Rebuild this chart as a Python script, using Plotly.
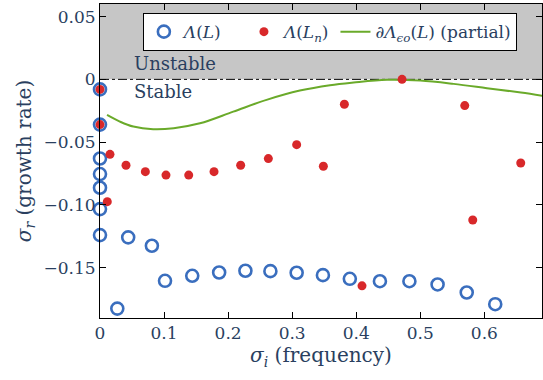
import plotly.graph_objects as go

# Λ(L) eigenvalues (open blue circles)
sigma_i_L = [0, 0, 0, 0, 0, 0, 0, 0.027, 0.044, 0.081, 0.1015, 0.144, 0.186, 0.227,
             0.266, 0.307, 0.348, 0.390, 0.437, 0.483, 0.527, 0.5725, 0.617]
sigma_r_L = [-0.008, -0.036, -0.063, -0.0754, -0.0863, -0.1033, -0.124, -0.1825, -0.1258,
             -0.1325, -0.1604, -0.1564, -0.1538, -0.1524, -0.1527, -0.154, -0.1559,
             -0.1588, -0.1607, -0.1607, -0.1633, -0.1697, -0.179]

# Λ(L_n) eigenvalues (red dots)
sigma_i_Ln = [0, 0, 0.0156, 0.0114, 0.0406, 0.0708, 0.103, 0.1385, 0.178, 0.2196, 0.2628,
              0.307, 0.3487, 0.3815, 0.409, 0.4715, 0.5694, 0.5819, 0.6568]
sigma_r_Ln = [-0.008, -0.036, -0.0597, -0.0974, -0.0684, -0.0735, -0.0762, -0.0762, -0.0735,
              -0.0684, -0.0631, -0.052, -0.0692, -0.0198, -0.1644, 0.0, -0.0209, -0.112, -0.0666]

# pseudospectrum boundary (partial)
sigma_i_eps = [0.011, 0.031, 0.052, 0.083, 0.115, 0.156, 0.208, 0.260, 0.312, 0.359,
               0.396, 0.448, 0.500, 0.552, 0.604, 0.657, 0.692]
sigma_r_eps = [-0.0283, -0.0336, -0.0376, -0.0397, -0.0389, -0.035, -0.0257, -0.0163,
               -0.0089, -0.0046, -0.0025, -0.0004, -0.001, -0.0036, -0.007, -0.0105, -0.0132]

x_ticks = [0, 0.1, 0.2, 0.3, 0.4, 0.5, 0.6]
x_tick_text = ["0", "0.1", "0.2", "0.3", "0.4", "0.5", "0.6"]
y_ticks = [0.05, 0, -0.05, -0.10, -0.15]
y_tick_text = ["0.05", "0", "\u22120.05", "\u22120.10", "\u22120.15"]

x_range = [0, 0.69]
y_range = [-0.19, 0.06]
stability_limit = 0

BLUE = "#3a6ebe"
RED = "#d8282a"
GREEN = "#6aaa2a"
SERIF = "DejaVu Serif"

fig = go.Figure()
fig.add_trace(go.Scatter(
    x=sigma_i_L, y=sigma_r_L, mode="markers", name="<i>Λ</i>(<i>L</i>)   ",
    marker=dict(symbol="circle-open", size=12, color=BLUE, line=dict(width=2.6, color=BLUE)),
    cliponaxis=False, legendrank=1))
fig.add_trace(go.Scatter(
    x=sigma_i_eps, y=sigma_r_eps, mode="lines",
    name="∂<i>Λ</i><sub><i>ϵ</i><i>o</i></sub>(<i>L</i>) (partial)",
    line=dict(color=GREEN, width=2, shape="spline"), legendrank=3))
fig.add_trace(go.Scatter(
    x=sigma_i_Ln, y=sigma_r_Ln, mode="markers", name="<i>Λ</i>(<i>L</i><sub><i>n</i></sub>)",
    marker=dict(symbol="circle", size=9, color=RED),
    cliponaxis=False, legendrank=2))

fig.add_shape(type="rect", xref="paper", yref="y", x0=0, x1=1, y0=stability_limit, y1=y_range[1],
              fillcolor="#c6c6c6", line=dict(width=0), layer="below")
fig.add_shape(type="line", xref="paper", yref="y", x0=0, x1=1, y0=stability_limit, y1=stability_limit,
              line=dict(color="black", width=1, dash="dashdot"), layer="below")

fig.add_annotation(x=0.05, y=0.013, xref="x", yref="y", text="Unstable", showarrow=False,
                   xanchor="left", yanchor="middle", font=dict(family=SERIF, size=18))
fig.add_annotation(x=0.05, y=-0.010, xref="x", yref="y", text="Stable", showarrow=False,
                   xanchor="left", yanchor="middle", font=dict(family=SERIF, size=18))

fig.update_xaxes(range=x_range, tickvals=x_ticks, ticktext=x_tick_text,
                 showline=True, linecolor="black", linewidth=1, mirror="ticks",
                 ticks="inside", ticklen=6, tickcolor="black", showgrid=False, zeroline=False,
                 tickfont=dict(family=SERIF, size=17),
                 title=dict(text="<i>σ</i><sub><i>i</i></sub> (frequency)", standoff=4,
                            font=dict(family=SERIF, size=20)))
fig.update_yaxes(range=y_range, tickvals=y_ticks, ticktext=y_tick_text,
                 showline=True, linecolor="black", linewidth=1, mirror="ticks",
                 ticks="inside", ticklen=6, tickcolor="black", showgrid=False, zeroline=False,
                 tickfont=dict(family=SERIF, size=17),
                 title=dict(text="<i>σ</i><sub><i>r</i></sub> (growth rate)", standoff=6,
                            font=dict(family=SERIF, size=20)))

fig.update_layout(
    width=543, height=380,
    margin=dict(l=100, r=1, t=4, b=62),
    plot_bgcolor="white", paper_bgcolor="white",
    legend=dict(orientation="h", x=0.097, y=0.971, xanchor="left", yanchor="top",
                bgcolor="white", bordercolor="black", borderwidth=1,
                font=dict(family=SERIF, size=17),
                itemwidth=30),
    showlegend=True,
)

fig.write_html("out.html")
